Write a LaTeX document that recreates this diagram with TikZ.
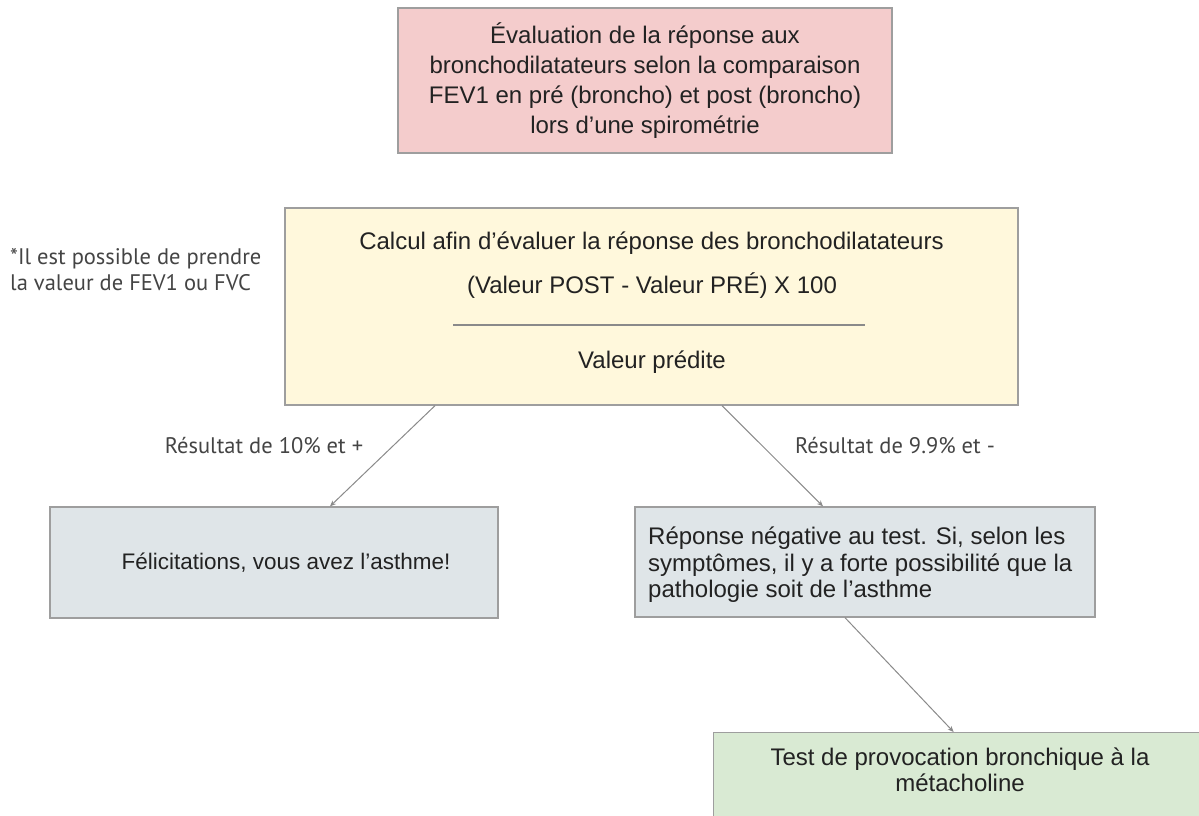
\documentclass[tikz,border=0pt]{standalone}
\usepackage{fontspec}
\setmainfont{Liberation Sans}
\newfontfamily\notefont{PT Sans}
\usetikzlibrary{arrows.meta}
\definecolor{pinkfill}{HTML}{F4CCCC}
\definecolor{yellowfill}{HTML}{FFF8DC}
\definecolor{grayfill}{HTML}{DFE5E8}
\definecolor{greenfill}{HTML}{D9EAD3}
\definecolor{boxborder}{HTML}{9E9E9E}
\definecolor{linegray}{HTML}{8A8A8A}
\definecolor{txt}{HTML}{222222}
\definecolor{notetxt}{HTML}{444444}
\tikzset{
  box/.style={draw=boxborder, line width=1.3pt, rectangle, inner sep=0pt},
  boxtext/.style={font=\fontsize{24}{30}\selectfont, text=txt, inner sep=0pt, align=center},
  notetext/.style={font=\notefont\fontsize{22.5}{26}\selectfont, text=notetxt, inner sep=0pt},
  conn/.style={draw=linegray, line width=1pt, -{Stealth[length=6pt,width=5pt]}}
}
\begin{document}
\begin{tikzpicture}[x=1pt,y=-1pt]
\useasboundingbox (0,0) rectangle (1199,815);
% boxes
\node[box, fill=pinkfill, minimum width=494pt, minimum height=145pt] (top) at (645,80.5) {};
\node[boxtext] (toptext) at (645,80.5) {Évaluation de la réponse aux\\bronchodilatateurs selon la comparaison\\FEV1 en pré (broncho) et post (broncho)\\lors d’une spirométrie};
\node[box, fill=yellowfill, minimum width=733pt, minimum height=197pt] (calc) at (651.5,306.5) {};
\node[boxtext] (calc1) at (651.5,243) {Calcul afin d’évaluer la réponse des bronchodilatateurs};
\node[boxtext] (calc2) at (652,286) {(Valeur POST - Valeur PRÉ) X 100};
\node[boxtext] (calc3) at (652,362) {Valeur prédite};
\coordinate (fracL) at (453,325);
\coordinate (fracR) at (865,325);
\draw[draw=linegray, line width=1.6pt] (fracL) -- (fracR);
\node[box, fill=grayfill, minimum width=448pt, minimum height=111pt] (left) at (274,562.5) {};
\node[boxtext, font=\fontsize{22.5}{28}\selectfont] (lefttext) at (286,562.5) {Félicitations, vous avez l’asthme!};
\node[box, fill=grayfill, minimum width=460pt, minimum height=110pt] (right) at (865,562) {};
\node[boxtext, align=left, anchor=west, font=\fontsize{24}{26.5}\selectfont] (righttext) at (648,565) {Réponse négative au test. Si, selon les\\symptômes, il y a forte possibilité que la\\pathologie soit de l’asthme};
\node[box, fill=greenfill, minimum width=497pt, minimum height=100pt, anchor=north west] (green) at (713,732) {};
\node[boxtext, font=\fontsize{24}{26.5}\selectfont] (greentext) at (960,770) {Test de provocation bronchique à la\\métacholine};
% side note
\node[notetext, align=left, anchor=west] (note) at (10,270) {*Il est possible de prendre\\la valeur de FEV1 ou FVC};
% connectors
\draw[conn] ([xshift=-216.5pt]calc.south) -- ([xshift=56pt]left.north);
\draw[conn] ([xshift=70.5pt]calc.south) -- ([xshift=-42pt]right.north);
\draw[conn] ([xshift=-20pt]right.south) -- ([xshift=-8.5pt]green.north);
% labels
\node[notetext] (lab1) at (264,446) {Résultat de 10\% et +};
\node[notetext] (lab2) at (895,446) {Résultat de 9.9\% et -};
\end{tikzpicture}
\end{document}
